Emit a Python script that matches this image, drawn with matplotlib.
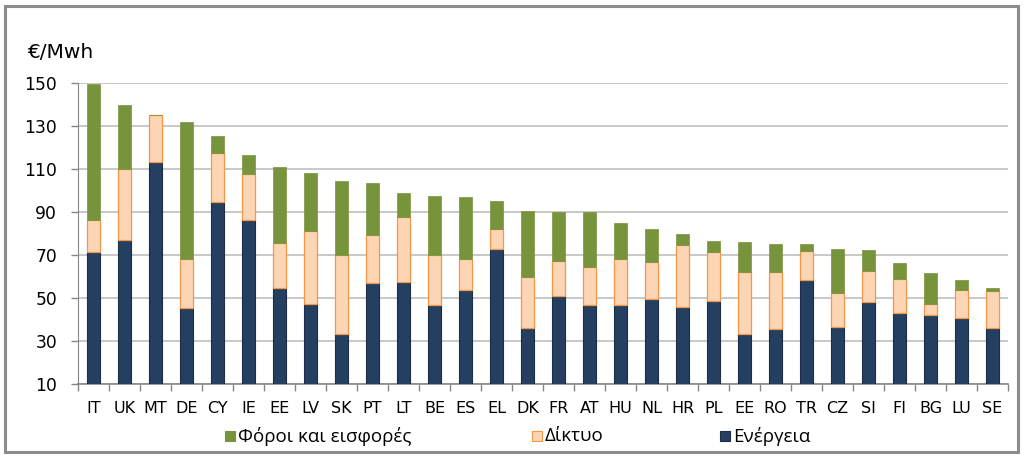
import matplotlib
matplotlib.use("Agg")
import matplotlib.pyplot as plt
from matplotlib.patches import Rectangle, Patch
import numpy as np

countries = ["IT", "UK", "MT", "DE", "CY", "IE", "EE", "LV", "SK", "PT", "LT", "BE", "ES", "EL",
             "DK", "FR", "AT", "HU", "NL", "HR", "PL", "EE", "RO", "TR", "CZ", "SI", "FI", "BG",
             "LU", "SE"]
# cumulative levels (€/Mwh)
energy_top = [71.5, 77, 113, 45.5, 94.5, 86.5, 54.5, 47.5, 33.3, 57, 57.5, 47, 54, 72.7,
              36, 50.8, 46.6, 46.6, 49.7, 45.7, 48.8, 33.4, 35.6, 58.5, 36.5, 48, 43.3, 42.4,
              41, 36]
network_top = [86.5, 110, 135, 68.2, 117.3, 107.8, 75.6, 81, 70, 79.3, 87.5, 69.8, 68.3, 82.1,
               60, 67.4, 64.6, 68.1, 66.9, 74.6, 71.6, 62.2, 62.2, 72, 52.6, 62.7, 59.1, 47.1,
               54, 53.4]
total_top = [149.2, 139.5, 135, 131.6, 125.4, 116.3, 110.8, 108.1, 104.5, 103.6, 99, 97.6, 97.1, 95.3,
             90.6, 89.8, 89.8, 84.7, 81.9, 79.6, 76.5, 75.9, 75, 75, 72.8, 72.3, 66.1, 61.9,
             58.4, 54.8]
labels = ["Φόροι και εισφορές", "Δίκτυο", "Ενέργεια"]
yticks = [10, 30, 50, 70, 90, 110, 130, 150]
unit = "€/Mwh"

base = 10
energy = np.array(energy_top) - base
network = np.array(network_top) - np.array(energy_top)
taxes = np.array(total_top) - np.array(network_top)

c_tax = "#77933C"
c_net = "#FCD5B5"
c_net_edge = "#F79646"
c_en = "#243F60"
c_en_edge = "#1A2E47"

fig = plt.figure(figsize=(10.24, 4.59), dpi=100)
ax = fig.add_axes([0.0762, 0.1627, 0.9082, 0.6571])

x = np.arange(len(countries))
w = 0.41
ax.bar(x, energy, w, bottom=base, color=c_en, edgecolor=c_en_edge, linewidth=0.8, zorder=3, label=labels[2])
ax.bar(x, network, w, bottom=np.array(energy_top), color=c_net, edgecolor=c_net_edge, linewidth=0.9, zorder=3, label=labels[1])
ax.bar(x, taxes, w, bottom=np.array(network_top), color=c_tax, edgecolor=c_tax, linewidth=0.5, zorder=3, label=labels[0])

ax.set_xlim(-0.5, len(countries) - 0.5)
ax.set_ylim(10, 150)
ax.set_yticks(yticks)
ax.set_yticklabels([str(t) for t in yticks], fontsize=12.3, family="DejaVu Sans")
ax.set_xticks(x)
ax.set_xticklabels(countries, fontsize=11.5, family="DejaVu Sans")
ax.tick_params(axis="x", length=0, pad=12)
ax.set_xticks(np.arange(-0.5, len(countries) + 0.5, 1), minor=True)
ax.tick_params(axis="x", which="minor", length=5, color="#868686", width=1)
ax.tick_params(axis="y", length=5, color="#868686", width=1, pad=10)
ax.grid(axis="y", color="#BFBFBF", linewidth=1.2, zorder=0)
for s in ["top", "right"]:
    ax.spines[s].set_visible(False)
ax.spines["left"].set_color("#868686")
ax.spines["bottom"].set_color("#868686")
ax.spines["bottom"].set_linewidth(1.2)

fig.text(27 / 1024, 1 - 58 / 459, unit, fontsize=14.5, family="DejaVu Sans", ha="left", va="baseline")

hs = [Patch(facecolor=c_tax, edgecolor=c_tax),
      Patch(facecolor=c_net, edgecolor=c_net_edge),
      Patch(facecolor=c_en, edgecolor=c_en_edge)]
xs = [225, 532, 720]
for h, lab, xp in zip(hs, labels, xs):
    fig.patches.append(Rectangle((xp / 1024, 1 - 441 / 459), 10 / 1024, 10 / 459,
                                 transform=fig.transFigure, facecolor=h.get_facecolor(),
                                 edgecolor=h.get_edgecolor(), linewidth=0.8))
    fig.text((xp + 13) / 1024, 1 - 436 / 459, lab, fontsize=13.5, family="Open Sans",
             ha="left", va="center")

fig.patches.append(Rectangle((4.5 / 1024, 1 - 451.5 / 459), 1013 / 1024, 445.5 / 459,
                             transform=fig.transFigure, fill=False, edgecolor="#8C8C8C",
                             linewidth=2.2))

fig.savefig("out.png", dpi=100)
